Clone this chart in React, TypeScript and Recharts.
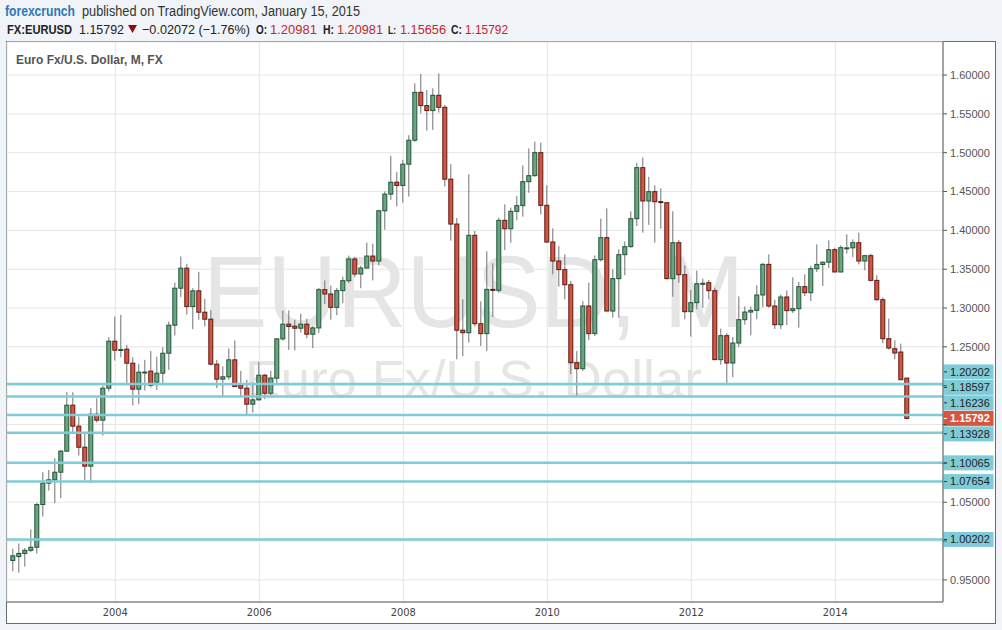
// @ts-nocheck
import React from 'react';
import {
  ComposedChart, Bar, XAxis, YAxis, CartesianGrid, ReferenceLine,
} from 'recharts';

// monthly EURUSD candles, Aug 2002 .. Jan 2015 (index 0 = Aug 2002)
const opens = [
  0.975, 0.980, 0.984, 0.988, 0.992, 1.047, 1.0745, 1.0788, 1.0886, 1.1157, 1.1749, 1.1479, 1.1208, 1.0964, 1.1633, 1.1556, 1.1968,
  1.2573, 1.2460, 1.2470, 1.2290, 1.1955, 1.2170, 1.2187, 1.2045, 1.2161, 1.2418, 1.2779, 1.3255,
  1.3513, 1.3019, 1.3221, 1.2946, 1.2856, 1.2277, 1.2084, 1.2114, 1.2333, 1.2006, 1.1968, 1.1762,
  1.1818, 1.2135, 1.1903, 1.2097, 1.2603, 1.2792, 1.2766, 1.2740, 1.2792, 1.2663, 1.2744, 1.3237,
  1.3181, 1.3009, 1.3224, 1.3352, 1.3631, 1.3438, 1.3515, 1.3669, 1.3605, 1.4252, 1.4466, 1.4620,
  1.4578, 1.4852, 1.5160, 1.5777, 1.5606, 1.5542, 1.5739, 1.5584, 1.4659, 1.4081, 1.2714, 1.2682,
  1.3936, 1.2798, 1.2670, 1.3240, 1.3228, 1.4129, 1.4021, 1.4245, 1.4318, 1.4627, 1.4704, 1.5000,
  1.4322, 1.3850, 1.3605, 1.3494, 1.3300, 1.2296, 1.2219, 1.3026, 1.2670, 1.3622, 1.3906, 1.2961,
  1.3378, 1.3687, 1.3790, 1.4150, 1.4807, 1.4378, 1.4498, 1.4370, 1.4356, 1.3378, 1.3841, 1.3429,
  1.2953, 1.3069, 1.3310, 1.3326, 1.3223, 1.2335, 1.2644, 1.2292, 1.2549, 1.2850, 1.2948, 1.2970,
  1.3168, 1.3562, 1.3026, 1.2785, 1.3142, 1.2966, 1.2991, 1.3275, 1.3197, 1.3506, 1.3560, 1.3590,
  1.3751, 1.3464, 1.3770, 1.3775, 1.3841, 1.3605, 1.3674, 1.3356, 1.3107, 1.2605, 1.2476, 1.2433,
  1.20981,
];
const highs = [
  0.990, 0.997, 0.991, 1.015, 1.049, 1.0886, 1.0916, 1.1067, 1.1174, 1.1916, 1.1916, 1.1603, 1.1406, 1.1710, 1.1839, 1.1998, 1.2624,
  1.2891, 1.2912, 1.2526, 1.2367, 1.2281, 1.2333, 1.2448, 1.2371, 1.2496, 1.2826, 1.3328, 1.3663,
  1.3569, 1.3255, 1.3466, 1.3118, 1.2976, 1.2333, 1.2247, 1.2479, 1.2582, 1.2191, 1.2075, 1.2045,
  1.2307, 1.2150, 1.2191, 1.2610, 1.2968, 1.2968, 1.2848, 1.2925, 1.2861, 1.2765, 1.3258, 1.3356,
  1.3288, 1.3258, 1.3404, 1.3674, 1.3657, 1.3545, 1.3841, 1.3828, 1.4265, 1.4500, 1.4959, 1.4753,
  1.4907, 1.5225, 1.5893, 1.6013, 1.5807, 1.5829, 1.6021, 1.5614, 1.4852, 1.4158, 1.3112, 1.4721,
  1.3991, 1.3086, 1.3730, 1.3575, 1.4163, 1.4335, 1.4292, 1.4442, 1.4837, 1.5056, 1.5142, 1.5129,
  1.4579, 1.4026, 1.3798, 1.3691, 1.3348, 1.2446, 1.3090, 1.3326, 1.3678, 1.4150, 1.4283, 1.3498,
  1.3755, 1.3858, 1.4245, 1.4871, 1.4936, 1.4691, 1.4579, 1.4541, 1.4360, 1.4245, 1.3876, 1.3549,
  1.3232, 1.3481, 1.3378, 1.3361, 1.3262, 1.2734, 1.2678, 1.2627, 1.3150, 1.3021, 1.3021, 1.3292,
  1.3580, 1.3691, 1.3107, 1.3172, 1.3227, 1.3395, 1.3335, 1.3433, 1.3545, 1.3820, 1.3601, 1.3871,
  1.3775, 1.3807, 1.3948, 1.3884, 1.3970, 1.3680, 1.3700, 1.3421, 1.3137, 1.2863, 1.2584, 1.2541,
  1.20981,
];
const lows = [
  0.961, 0.959, 0.967, 0.986, 0.984, 1.0315, 1.0650, 1.0487, 1.0552, 1.1150, 1.1388, 1.1101, 1.0779, 1.0753, 1.1526, 1.1358, 1.1925,
  1.2324, 1.2367, 1.2032, 1.1745, 1.1762, 1.1938, 1.1976, 1.1946, 1.2011, 1.2204, 1.2646, 1.3140,
  1.2916, 1.2727, 1.2848, 1.2762, 1.2260, 1.1968, 1.1852, 1.2075, 1.1985, 1.1861, 1.1633, 1.1655,
  1.1810, 1.1826, 1.1869, 1.2024, 1.2580, 1.2461, 1.2453, 1.2685, 1.2610, 1.2483, 1.2680, 1.3052,
  1.2851, 1.2907, 1.3065, 1.3322, 1.3395, 1.3254, 1.3511, 1.3356, 1.3549, 1.4008, 1.4393, 1.4308,
  1.4359, 1.4436, 1.5140, 1.5507, 1.5284, 1.5293, 1.5516, 1.4565, 1.3866, 1.2339, 1.2382, 1.2554,
  1.2760, 1.2511, 1.2446, 1.2884, 1.3197, 1.3747, 1.3841, 1.4129, 1.4176, 1.4485, 1.4690, 1.4206,
  1.3840, 1.3433, 1.3275, 1.3112, 1.2146, 1.1867, 1.2189, 1.2588, 1.2639, 1.3600, 1.2960, 1.2876,
  1.2876, 1.3421, 1.3777, 1.4056, 1.3970, 1.4069, 1.3841, 1.4021, 1.3369, 1.3146, 1.3326, 1.2854,
  1.2631, 1.2983, 1.3004, 1.3112, 1.2330, 1.2270, 1.2034, 1.2112, 1.2498, 1.2785, 1.2648, 1.2854,
  1.3010, 1.3004, 1.2730, 1.2730, 1.2781, 1.2936, 1.2747, 1.3155, 1.3090, 1.3464, 1.3283, 1.3515,
  1.3464, 1.3460, 1.3700, 1.3657, 1.3562, 1.3485, 1.3343, 1.3098, 1.2549, 1.2464, 1.2339, 1.2070,
  1.15656,
];
const closes = [
  0.981, 0.984, 0.988, 0.992, 1.047, 1.0745, 1.0788, 1.0886, 1.1157, 1.1749, 1.1479, 1.1208, 1.0964, 1.1633, 1.1556, 1.1968, 1.2573,
  1.2457, 1.2466, 1.2290, 1.1955, 1.2174, 1.2176, 1.2006, 1.2161, 1.2418, 1.2779, 1.3255, 1.3513,
  1.3019, 1.3221, 1.2946, 1.2856, 1.2277, 1.2084, 1.2114, 1.2333, 1.1989, 1.1968, 1.1762, 1.1818,
  1.2135, 1.1903, 1.2097, 1.2603, 1.2792, 1.2762, 1.2740, 1.2792, 1.2663, 1.2744, 1.3237, 1.3181,
  1.3009, 1.3224, 1.3352, 1.3631, 1.3438, 1.3515, 1.3669, 1.3605, 1.4252, 1.4466, 1.4620, 1.4578,
  1.4852, 1.5160, 1.5777, 1.5606, 1.5542, 1.5739, 1.5584, 1.4659, 1.4081, 1.2714, 1.2682, 1.3936,
  1.2798, 1.2670, 1.3240, 1.3228, 1.4129, 1.4021, 1.4245, 1.4318, 1.4627, 1.4704, 1.5000, 1.4322,
  1.3850, 1.3605, 1.3494, 1.3300, 1.2296, 1.2219, 1.3026, 1.2670, 1.3622, 1.3906, 1.2961, 1.3378,
  1.3687, 1.3790, 1.4150, 1.4807, 1.4378, 1.4498, 1.4369, 1.4362, 1.3378, 1.3841, 1.3429, 1.2953,
  1.3069, 1.3313, 1.3318, 1.3223, 1.2335, 1.2644, 1.2292, 1.2549, 1.2850, 1.2948, 1.2970, 1.3168,
  1.3562, 1.3026, 1.2785, 1.3142, 1.2966, 1.2991, 1.3275, 1.3197, 1.3506, 1.3562, 1.3590, 1.3751,
  1.3464, 1.3777, 1.3775, 1.3841, 1.3605, 1.3674, 1.3356, 1.3107, 1.2605, 1.2485, 1.2421, 1.2077,
  1.15792,
];

const yearTicks = [17, 41, 65, 89, 113, 137]; // January of 2004, 2006 ... 2014
const firstYear = 2004;
const yTicks = [0.95, 1.0, 1.05, 1.1, 1.15, 1.2, 1.25, 1.3, 1.35, 1.4, 1.45, 1.5, 1.55, 1.6];
const hiddenTicks = [1.0, 1.1, 1.15, 1.2];
const levels = [1.20202, 1.18597, 1.16236, 1.13928, 1.10065, 1.07654, 1.00202];
const lastPrice = 1.15792;

const Y_MIN = 0.9215;
const Y_MAX = 1.6425;
const X_MIN = -1.05;
const X_MAX = 154.95;
const PLOT_H = 560;
const FONT = '"Liberation Sans", Arial, sans-serif';

const data = opens.map((o, i) => ({
  i,
  open: o,
  high: highs[i],
  low: lows[i],
  close: closes[i],
}));

// stack the price tags on the right so they don't overlap
const tagShift = (() => {
  const all = [...levels, lastPrice].sort((a, b) => b - a);
  const k = PLOT_H / (Y_MAX - Y_MIN);
  const py = (v) => (Y_MAX - v) * k;
  const h = 15.5;
  const p = all.indexOf(lastPrice);
  const out = new Map();
  out.set(lastPrice, 0);
  let prev = py(lastPrice);
  for (let j = p - 1; j >= 0; j--) {
    const y = Math.min(py(all[j]), prev - h);
    out.set(all[j], y - py(all[j]));
    prev = y;
  }
  prev = py(lastPrice);
  for (let j = p + 1; j < all.length; j++) {
    const y = Math.max(py(all[j]), prev + h);
    out.set(all[j], y - py(all[j]));
    prev = y;
  }
  return out;
})();

const Candle = (props: any) => {
  const { x, y, width, height, payload } = props;
  if (!payload) return null;
  const { open, close, high, low } = payload;
  const top = Math.min(y, y + height);
  const h = Math.abs(height);
  const k = h / (high - low || 1);
  const py = (v) => top + (high - v) * k;
  const up = close >= open;
  const cx = x + width / 2;
  const bTop = py(Math.max(open, close));
  const bh = Math.max(py(Math.min(open, close)) - bTop, 1);
  return (
    <g>
      <line x1={cx} x2={cx} y1={top} y2={top + h} stroke="#737375" strokeWidth={1} />
      <rect
        x={x + 0.5}
        y={bTop}
        width={width - 1}
        height={bh}
        fill={up ? '#6ba583' : '#d75442'}
        stroke={up ? '#225437' : '#5b1a13'}
        strokeWidth={1}
      />
    </g>
  );
};

const YTick = ({ x, y, payload }: any) => {
  const v = payload.value;
  if (hiddenTicks.some((t) => Math.abs(t - v) < 1e-6)) return null;
  return (
    <text x={x} y={y} dy="0.35em" fontSize={11} fill="#555" fontFamily={FONT}>
      {v.toFixed(5)}
    </text>
  );
};

const levelTag = (value: number, red: boolean) => (props: any) => {
  const vb = props.viewBox;
  if (!vb) return null;
  const x0 = vb.x + vb.width;
  const cy = vb.y + (tagShift.get(value) || 0);
  return (
    <g>
      <rect x={x0 + 0.5} y={cy - 7.5} width={50} height={15} fill={red ? '#d6553f' : '#80cbd8'} />
      <line x1={x0 + 1} x2={x0 + 4} y1={cy} y2={cy} stroke={red ? '#fff' : '#333'} strokeWidth={1} />
      <text
        x={x0 + 7}
        y={cy}
        dy="0.35em"
        fontSize={11}
        fontWeight={red ? 'bold' : 'normal'}
        fill={red ? '#fff' : '#1e1e1e'}
        fontFamily={FONT}
      >
        {value.toFixed(5)}
      </text>
    </g>
  );
};

const fit = { lengthAdjust: 'spacingAndGlyphs' };

export default function App() {
  return (
    <div style={{ position: 'relative', width: 1002, height: 630, background: '#f0f3f7', fontFamily: FONT }}>
      <style>{'body{margin:0}'}</style>
      <div
        style={{
          position: 'absolute', left: 6, top: 41, width: 988, height: 581,
          background: '#fff', border: '1px solid #6b6b6b',
        }}
      />
      <svg width={1002} height={630} style={{ position: 'absolute', left: 0, top: 0 }}>
        <text x={203} y={327} fontSize={102} fill="#e5e5e5" textLength={541} lengthAdjust="spacingAndGlyphs" fontFamily={FONT}>
          EURUSD, M
        </text>
        <text x={245} y={397} fontSize={52} fill="#e5e5e5" textLength={457} lengthAdjust="spacingAndGlyphs" fontFamily={FONT}>
          Euro Fx/U.S. Dollar
        </text>
      </svg>
      <div style={{ position: 'absolute', left: 0, top: 0 }}>
        <ComposedChart
          width={1002}
          height={630}
          data={data}
          margin={{ top: 42, right: 7, bottom: 7, left: 7 }}
        >
          <CartesianGrid stroke="#e6e6e6" strokeWidth={1} />
          <XAxis
            dataKey="i"
            type="number"
            domain={[X_MIN, X_MAX]}
            ticks={yearTicks}
            tickFormatter={(v) => String(firstYear + (v - 17) / 12)}
            allowDataOverflow
            height={21}
            axisLine={{ stroke: '#555' }}
            tickLine={false}
            tickSize={4}
            tickMargin={2}
            tick={{ fontSize: 11, fill: '#444', fontFamily: '"DejaVu Sans Condensed", "DejaVu Sans", sans-serif' }}
          />
          <YAxis
            orientation="right"
            type="number"
            domain={[Y_MIN, Y_MAX]}
            ticks={yTicks}
            allowDataOverflow
            width={52}
            axisLine={{ stroke: '#555' }}
            tickLine={{ stroke: '#555' }}
            tickSize={4}
            tickMargin={3}
            tick={<YTick />}
          />
          <Bar
            dataKey={(d) => [d.low, d.high]}
            barSize={5}
            shape={<Candle />}
            isAnimationActive={false}
          />
          {levels.map((lv) => (
            <ReferenceLine
              key={lv}
              y={lv}
              stroke="#80cbd8"
              strokeWidth={2.5}
              label={levelTag(lv, false)}
            />
          ))}
          <ReferenceLine y={lastPrice} stroke="none" label={levelTag(lastPrice, true)} />
        </ComposedChart>
      </div>
      <svg width={1002} height={70} style={{ position: 'absolute', left: 0, top: 0, pointerEvents: 'none' }}>
        <text x={5} y={16} fontSize={14} fontWeight="bold" fill="#2a7ab8" fontFamily={FONT} textLength={70} {...fit}>
          forexcrunch
        </text>
        <text x={82} y={16} fontSize={14} fill="#333" fontFamily={FONT} textLength={278} {...fit}>
          published on TradingView.com, January 15, 2015
        </text>
        <g fontFamily={FONT} fill="#222">
          <text x={7} y={34} fontSize={13} fontWeight="bold" textLength={65} {...fit}>FX:EURUSD</text>
          <text x={79} y={34} fontSize={13} textLength={45} {...fit}>1.15792</text>
          <text x={142} y={34} fontSize={13} textLength={108} {...fit}>−0.02072 (−1.76%)</text>
          <text x={256} y={34} fontSize={12.5} fontWeight="bold" textLength={11} {...fit}>O:</text>
          <text x={270} y={34} fontSize={13} fill="#c0282d" textLength={47} {...fit}>1.20981</text>
          <text x={323} y={34} fontSize={12.5} fontWeight="bold" textLength={11} {...fit}>H:</text>
          <text x={337} y={34} fontSize={13} fill="#c0282d" textLength={46} {...fit}>1.20981</text>
          <text x={388} y={34} fontSize={11.5} fontWeight="bold" textLength={8} {...fit}>L:</text>
          <text x={400} y={34} fontSize={13} fill="#c0282d" textLength={46} {...fit}>1.15656</text>
          <text x={451} y={34} fontSize={12.5} fontWeight="bold" textLength={11} {...fit}>C:</text>
          <text x={465} y={34} fontSize={13} fill="#c0282d" textLength={43} {...fit}>1.15792</text>
        </g>
        <path d="M128 25 L137 25 L132.5 33 Z" fill="#8b0d0d" />
        <text x={16} y={64} fontSize={12} fontWeight="bold" fill="#555" fontFamily={FONT}>
          Euro Fx/U.S. Dollar, M, FX
        </text>
      </svg>
    </div>
  );
}
